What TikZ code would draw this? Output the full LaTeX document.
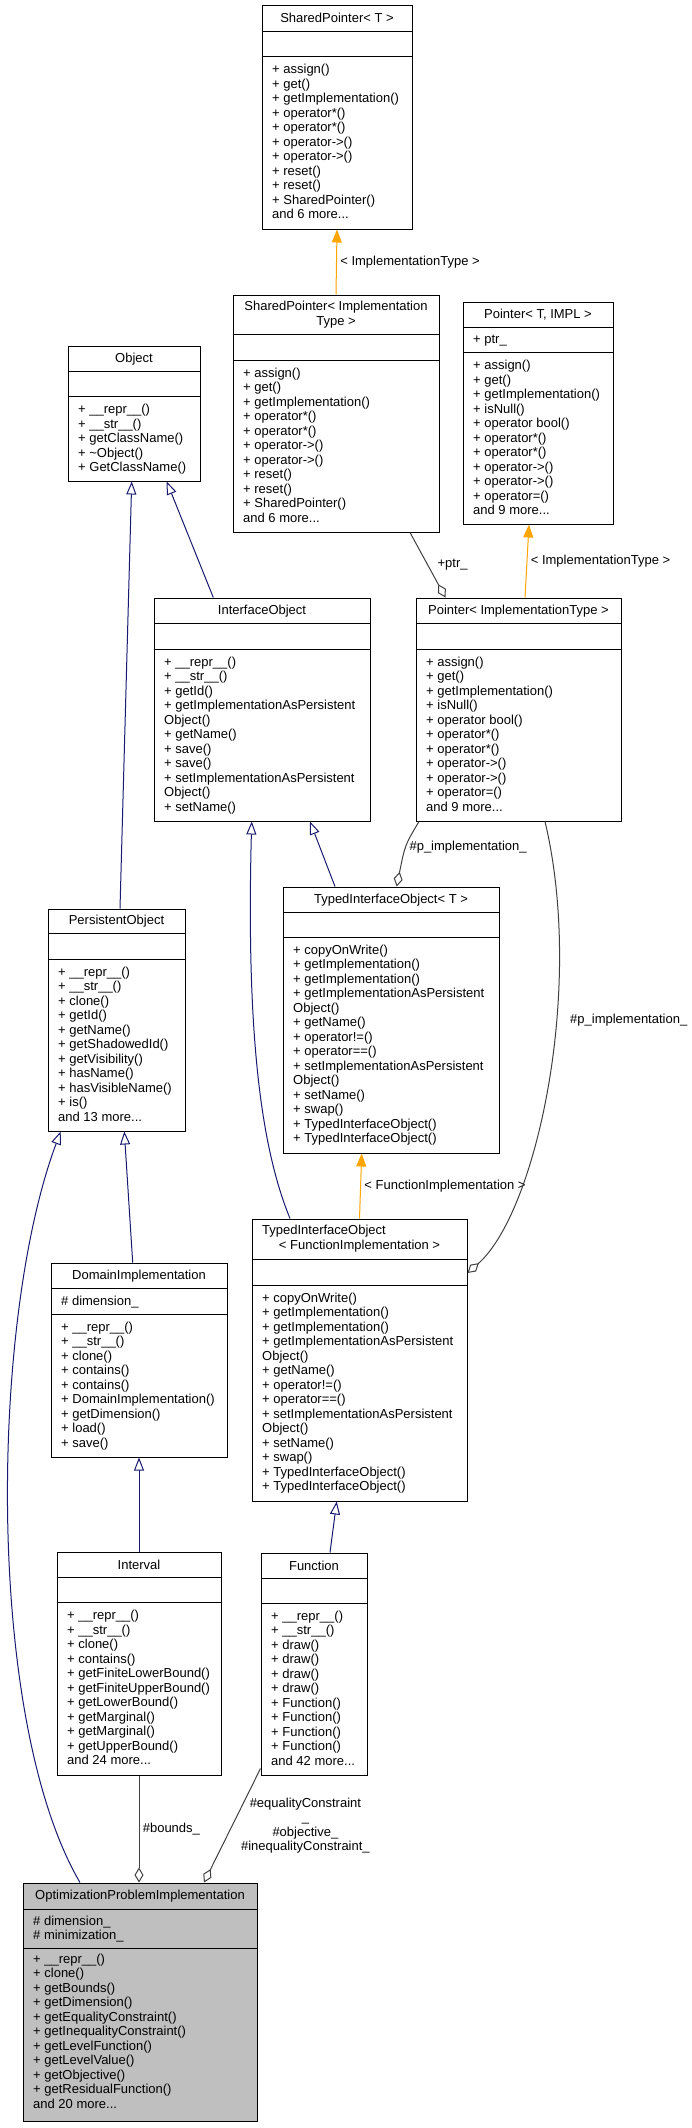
\documentclass[tikz,border=0pt]{standalone}
\usepackage{fontspec}
\setmainfont{Liberation Sans}
\usetikzlibrary{arrows.meta,fit}

\definecolor{edgenavy}{RGB}{25,25,112}
\definecolor{edgegray}{RGB}{64,64,64}
\definecolor{edgeorange}{RGB}{255,165,0}
\definecolor{boxgray}{RGB}{191,191,191}

\tikzset{
  classbox/.style={draw=black, inner sep=0pt, line width=1pt},
  classtitle/.style={align=center, inner sep=0pt},
  members/.style={align=left, anchor=north west, inner sep=0pt},
  inherit/.style={draw=edgenavy, line width=1pt, -{Triangle[open,length=13pt,width=10pt]}},
  templ/.style={draw=edgeorange, line width=1pt, -{Triangle[length=13pt,width=10pt,fill=edgeorange]}},
  usage/.style={draw=edgegray, line width=1pt, -{Diamond[open,length=15pt,width=9pt]}},
  lbl/.style={right}
}

% box with its compartment lines
\newcommand{\classframe}[7][white]{%
  \node[classbox, fill=#1, fit={(#3,#4) (#5,#6)}] (#2) {};
  \foreach \d in {#7} \draw[line width=1pt] (#3,\d) -- (#5,\d);
}

\newcommand{\sharedmembers}{+ assign()\\+ get()\\+ getImplementation()\\+ operator*()\\+ operator*()\\+ operator->()\\+ operator->()\\+ reset()\\+ reset()\\+ SharedPointer()\\and 6 more...}
\newcommand{\pointermembers}{+ assign()\\+ get()\\+ getImplementation()\\+ isNull()\\+ operator bool()\\+ operator*()\\+ operator*()\\+ operator->()\\+ operator->()\\+ operator=()\\and 9 more...}
\newcommand{\typedmembers}{+ copyOnWrite()\\+ getImplementation()\\+ getImplementation()\\+ getImplementationAsPersistent\\Object()\\+ getName()\\+ operator!=()\\+ operator==()\\+ setImplementationAsPersistent\\Object()\\+ setName()\\+ swap()\\+ TypedInterfaceObject()\\+ TypedInterfaceObject()}

\begin{document}
\begin{tikzpicture}[x=1pt,y=-1pt,font=\fontsize{13}{14.5}\selectfont]
\useasboundingbox (0,0) rectangle (691,2128);

% classes
\classframe{sptrT}{262}{5}{412}{229}{31.7,56.7}
\node[classtitle] (sptrT-t) at (337,18.3) {SharedPointer< T >};
\node[members] (sptrT-m) at (272,64.2) {\sharedmembers};

\classframe{sptrI}{233}{295}{439}{532}{334.3,360}
\node[classtitle] (sptrI-t) at (336,314.6) {SharedPointer< Implementation\\Type >};
\node[members] (sptrI-m) at (243,367.5) {\sharedmembers};

\classframe{ptrT}{463}{302}{613}{524}{327.3,352.7}
\node[classtitle] (ptrT-t) at (538,314.7) {Pointer< T, IMPL >};
\node[members] (ptrT-a) at (473,334.8) {+ ptr\_};
\node[members] (ptrT-m) at (473,360.2) {\pointermembers};

\classframe{object}{68}{346}{200}{481}{371.7,396.7}
\node[classtitle] (object-t) at (134,358.8) {Object};
\node[members] (object-m) at (78,404.2) {+ \_\_repr\_\_()\\+ \_\_str\_\_()\\+ getClassName()\\+ \textasciitilde Object()\\+ GetClassName()};

\classframe{iobj}{154}{598}{370}{821}{623.3,649}
\node[classtitle] (iobj-t) at (262,610.7) {InterfaceObject};
\node[members] (iobj-m) at (164,656.5) {+ \_\_repr\_\_()\\+ \_\_str\_\_()\\+ getId()\\+ getImplementationAsPersistent\\Object()\\+ getName()\\+ save()\\+ save()\\+ setImplementationAsPersistent\\Object()\\+ setName()};

\classframe{ptrI}{416}{598}{621}{821}{623.3,649}
\node[classtitle] (ptrI-t) at (518.5,610.7) {Pointer< ImplementationType >};
\node[members] (ptrI-m) at (426,656.5) {\pointermembers};

\classframe{pobj}{48}{909}{185}{1131}{933.3,959}
\node[classtitle] (pobj-t) at (116.5,921.2) {PersistentObject};
\node[members] (pobj-m) at (58,966.5) {+ \_\_repr\_\_()\\+ \_\_str\_\_()\\+ clone()\\+ getId()\\+ getName()\\+ getShadowedId()\\+ getVisibility()\\+ hasName()\\+ hasVisibleName()\\+ is()\\and 13 more...};

\classframe{tioT}{283}{887}{499}{1153}{912.3,937.3}
\node[classtitle] (tioT-t) at (391,899.7) {TypedInterfaceObject< T >};
\node[members] (tioT-m) at (293,944.8) {\typedmembers};

\classframe{tioF}{252}{1219}{467}{1501}{1259,1285}
\node[classtitle, anchor=west] (tioF-t) at (262,1231) {TypedInterfaceObject};
\node[classtitle] (tioF-u) at (359.5,1246) {< FunctionImplementation >};
\node[members] (tioF-m) at (262,1292.5) {\typedmembers};

\classframe{domain}{51}{1263}{227}{1457}{1288.3,1314}
\node[classtitle] (domain-t) at (139,1275.7) {DomainImplementation};
\node[members] (domain-a) at (61,1295.8) {\# dimension\_};
\node[members] (domain-m) at (61,1321.5) {+ \_\_repr\_\_()\\+ \_\_str\_\_()\\+ clone()\\+ contains()\\+ contains()\\+ DomainImplementation()\\+ getDimension()\\+ load()\\+ save()};

\classframe{interval}{57}{1552}{221}{1775}{1577.5,1602.5}
\node[classtitle] (interval-t) at (139,1564.8) {Interval};
\node[members] (interval-m) at (67,1610) {+ \_\_repr\_\_()\\+ \_\_str\_\_()\\+ clone()\\+ contains()\\+ getFiniteLowerBound()\\+ getFiniteUpperBound()\\+ getLowerBound()\\+ getMarginal()\\+ getMarginal()\\+ getUpperBound()\\and 24 more...};

\classframe{function}{261}{1553}{367}{1775}{1578,1603}
\node[classtitle] (function-t) at (314,1565.5) {Function};
\node[members] (function-m) at (271,1610.5) {+ \_\_repr\_\_()\\+ \_\_str\_\_()\\+ draw()\\+ draw()\\+ draw()\\+ draw()\\+ Function()\\+ Function()\\+ Function()\\+ Function()\\and 42 more...};

\classframe[boxgray]{optim}{23}{1883}{257}{2121}{1909.3,1948.3}
\node[classtitle] (optim-t) at (140,1896.2) {OptimizationProblemImplementation};
\node[members] (optim-a) at (33,1915.5) {\# dimension\_\\\# minimization\_};
\node[members] (optim-m) at (33,1953.5) {+ \_\_repr\_\_()\\+ clone()\\+ getBounds()\\+ getDimension()\\+ getEqualityConstraint()\\+ getInequalityConstraint()\\+ getLevelFunction()\\+ getLevelValue()\\+ getObjective()\\+ getResidualFunction()\\and 20 more...};

% inheritance
\draw[inherit] ([xshift=3.5]pobj.north) -- ([xshift=-2.3]object.south);
\draw[inherit] ([xshift=-48.7]iobj.north) -- ([xshift=32.7]object.south);
\draw[inherit] ([xshift=-56]tioT.north) -- ([xshift=48]iobj.south);
\draw[inherit] ([xshift=-69.5]tioF.north) .. controls (262,1150) and (246,1040) .. ([xshift=-10.3]iobj.south);
\draw[inherit] ([xshift=-60]optim.north) .. controls (-15,1720) and (-10,1320) .. ([xshift=-55.8]pobj.south);
\draw[inherit] ([xshift=-6.3]domain.north) -- ([xshift=7.8]pobj.south);
\draw[inherit] (interval.north) -- (domain.south);
\draw[inherit] ([xshift=16]function.north) -- ([xshift=-22.8]tioF.south);

% template instances
\draw[templ] (sptrI.north) -- (sptrT.south) node[lbl, midway] (l1) {< ImplementationType >};
\draw[templ] ([xshift=6.5]ptrI.north) -- ([xshift=-9]ptrT.south) node[lbl, midway] (l2) {< ImplementationType >};
\draw[templ] (tioF.north) -- ([xshift=-29.3]tioT.south) node[lbl, midway] (l3) {< FunctionImplementation >};

% members used
\draw[usage] ([xshift=74]sptrI.south) -- ([xshift=-73]ptrI.north) node[lbl, midway, xshift=6] (l4) {+ptr\_};
\draw[usage] ([xshift=-99.5]ptrI.south) .. controls (405,845) .. ([xshift=5.7]tioT.north) node[lbl, midway] (l5) {\#p\_implementation\_};
\draw[usage] ([xshift=26.5]ptrI.south) .. controls (585,990) and (536,1213) .. ([yshift=87]tioF.east) node[lbl, pos=0.37, xshift=10] (l6) {\#p\_implementation\_};
\draw[usage] (interval.south) -- (interval.south |- optim.north) node[lbl, midway] (l7) {\#bounds\_};
\draw[usage] ([yshift=7]function.south west) -- ([xshift=64]optim.north) node[lbl, midway, align=center, xshift=5] (l8) {\#equalityConstraint\\\_\\\#objective\_\\\#inequalityConstraint\_};
\end{tikzpicture}
\end{document}
